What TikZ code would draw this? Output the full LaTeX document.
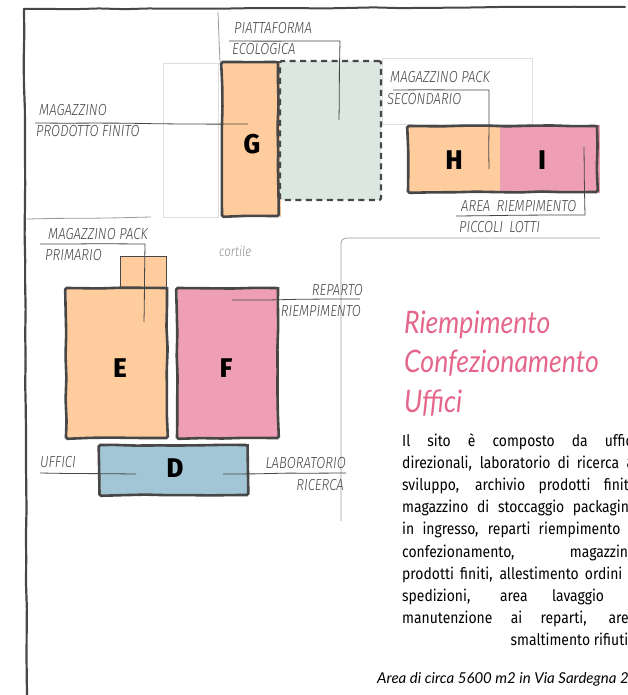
\documentclass[tikz,border=0pt]{standalone}
\usepackage{fontspec}
\setmainfont{Latin Modern Roman}
\newfontfamily\labelfont[FakeStretch=0.82]{Fira Sans Light Italic}
\newfontfamily\bodyfont[FakeStretch=0.87]{Fira Sans}
\newfontfamily\letterfont[FakeStretch=0.95]{Fira Sans ExtraBold}
\newfontfamily\titlefont[FakeStretch=0.86]{Lato Italic}
\newfontfamily\areafont{Lato Italic}
\usetikzlibrary{decorations.pathmorphing}

\definecolor{ink}{HTML}{474747}
\definecolor{peach}{HTML}{FFCC9E}
\definecolor{rose}{HTML}{EE9FB6}
\definecolor{sky}{HTML}{A3C6D6}
\definecolor{sage}{HTML}{DBE7E1}
\definecolor{titlepink}{HTML}{E5668B}

\begin{document}
\begin{tikzpicture}[x=1pt, y=-1pt,
        block_style/.style={inner sep=0pt, outer sep=0pt},
        outline_style/.style={draw=ink, inner sep=0pt, outer sep=0pt, line width=2.6pt, rounded corners=1.5pt, decorate, decoration={random steps, segment length=22pt, amplitude=0.6pt}},
        faint_style/.style={draw=black!13, inner sep=0pt, line width=0.7pt},
        letter_style/.style={font=\letterfont\fontsize{27}{27}\selectfont},
        label_style/.style={text=ink, inner sep=0pt, anchor=base west, font=\labelfont\fontsize{16}{16}\selectfont},
        title_style/.style={text=titlepink, inner sep=0pt, anchor=base west, font=\titlefont\fontsize{31}{31}\selectfont},
        leader_style/.style={draw=ink, line width=0.8pt, decorate, decoration={random steps, segment length=30pt, amplitude=0.4pt}},
        border_style/.style={draw=ink, line cap=round, decorate, decoration={random steps, segment length=25pt, amplitude=0.5pt}},
        sketch_style/.style={draw=black!40, line width=0.8pt, decorate, decoration={random steps, segment length=30pt, amplitude=0.3pt}}]

        \useasboundingbox (0,0) rectangle (627,695);

        % sheet border
        \coordinate (b1) at (24,9);
        \coordinate (b2) at (625,7);
        \coordinate (b3) at (27,695);
        \draw [border_style, line width=2pt] (b1) -- (b2);
        \draw [border_style, line width=2.2pt] (b1) -- (b3);

        % thin site lines
        \coordinate (s1) at (218,12);
        \coordinate (s2) at (220,62);
        \coordinate (s3) at (27,219);
        \coordinate (s4) at (151,217);
        \coordinate (p1) at (341,521);
        \coordinate (p2) at (600,238);
        \draw [sketch_style] (s1) -- (s2);
        \draw [sketch_style] (s3) -- (s4);
        \draw [draw=black!38, line width=0.8pt, rounded corners=5pt] (p1) |- (p2);

        \node [faint_style, minimum width=55pt, minimum height=154pt] (f1) at (190.5,140) {};
        \node [faint_style, minimum width=150pt, minimum height=66pt] (f2) at (457,91) {};

        % blocks
        \node [block_style, fill=peach, minimum width=58pt, minimum height=155pt] (n_g) at (252,139.5) {};
        \node [outline_style, minimum width=56pt, minimum height=154pt] (o_g) at (250,139) {};
        \node [block_style, fill=sage, draw=ink, line width=2.4pt, dashed, dash pattern=on 6pt off 4.5pt, rounded corners=1.5pt, minimum width=101pt, minimum height=139pt] (n_p) at (330.5,130.5) {};

        \node [block_style, fill=peach, minimum width=92pt, minimum height=67pt] (n_h) at (454,159) {};
        \node [block_style, fill=rose, minimum width=100pt, minimum height=67pt] (n_i) at (550,159) {};
        \node [outline_style, minimum width=189pt, minimum height=66pt] (o_hi) at (502.5,159) {};

        \node [block_style, fill=peach, draw=ink, line width=0.6pt, minimum width=46pt, minimum height=32pt] (n_s) at (143,272) {};
        \node [block_style, fill=peach, minimum width=100pt, minimum height=150pt] (n_e) at (116.5,363) {};
        \node [outline_style, minimum width=101pt, minimum height=150pt] (o_e) at (116.5,363) {};
        \node [block_style, fill=rose, minimum width=100pt, minimum height=150pt] (n_f) at (227.5,363) {};
        \node [outline_style, minimum width=101pt, minimum height=150pt] (o_f) at (227.5,363) {};
        \node [block_style, fill=sky, minimum width=148pt, minimum height=50pt] (n_d) at (173.5,470) {};
        \node [outline_style, minimum width=148pt, minimum height=50pt] (o_d) at (173.5,470) {};

        \node [letter_style] (l_g) at (252,144) {G};
        \node [letter_style] (l_h) at (454,160) {H};
        \node [letter_style] (l_i) at (542,160) {I};
        \node [letter_style] (l_e) at (120,368) {E};
        \node [letter_style] (l_f) at (226,368) {F};
        \node [letter_style] (l_d) at (175,468) {D};

        % labels
        \node [label_style] (t1) at (234,34) {PIATTAFORMA};
        \node [label_style] (t2) at (232,55) {ECOLOGICA};
        \node [label_style] (t3) at (39,116) {MAGAZZINO};
        \node [label_style] (t4) at (36,137) {PRODOTTO FINITO};
        \node [label_style] (t5) at (390,83) {MAGAZZINO PACK};
        \node [label_style] (t6) at (387,105) {SECONDARIO};
        \node [label_style] (t7) at (461,211) {AREA\, RIEMPIMENTO};
        \node [label_style] (t8) at (459,232) {PICCOLI\, LOTTI};
        \node [label_style] (t9) at (48,239) {MAGAZZINO PACK};
        \node [label_style] (t10) at (45,260) {PRIMARIO};
        \node [label_style, anchor=base east] (t11) at (363,295) {REPARTO};
        \node [label_style, anchor=base east] (t12) at (361,316) {RIEMPIMENTO};
        \node [label_style] (t13) at (40,467) {UFFICI};
        \node [label_style, anchor=base east] (t14) at (346,468) {LABORATORIO};
        \node [label_style, anchor=base east] (t15) at (344,490) {RICERCA};
        \node [label_style, text=black!45, font=\labelfont\fontsize{14}{14}\selectfont] (t16) at (219,256) {cortile};

        % leaders
        \coordinate (a1) at (229,41);
        \coordinate (a2) at (340,41);
        \coordinate (a3) at (339,120);
        \coordinate (a4) at (35,123);
        \coordinate (a5) at (248,124);
        \coordinate (a6) at (393,90);
        \coordinate (a7) at (489,90);
        \coordinate (a8) at (489,169);
        \coordinate (a9) at (456,216);
        \coordinate (a10) at (585,215);
        \coordinate (a11) at (584,147);
        \coordinate (a12) at (40,244);
        \coordinate (a13) at (145,244);
        \coordinate (a14) at (144,322);
        \coordinate (a15) at (360,299);
        \coordinate (a16) at (232,300);
        \coordinate (a17) at (40,473);
        \coordinate (a18) at (136,474);
        \coordinate (a19) at (346,473);
        \coordinate (a20) at (223,474);
        \draw [leader_style] (a1) -- (a2) -- (a3);
        \draw [leader_style] (a4) -- (a5);
        \draw [leader_style] (a6) -- (a7) -- (a8);
        \draw [leader_style] (a9) -- (a10) -- (a11);
        \draw [leader_style] (a12) -- (a13) -- (a14);
        \draw [leader_style] (a15) -- (a16);
        \draw [leader_style] (a17) -- (a18);
        \draw [leader_style] (a19) -- (a20);

        % text column
        \node [title_style] (n_title1) at (404,333) {Riempimento};
        \node [title_style] (n_title2) at (404,372) {Confezionamento};
        \node [title_style] (n_title3) at (404,412) {Uffici};
        \node [inner sep=0pt, anchor=north west, text width=234pt, align=justify, font=\bodyfont\fontsize{16}{22.2}\selectfont] (n_body) at (402,433) {Il sito è composto da uffici\linebreak direzionali, laboratorio di ricerca \&\linebreak sviluppo, archivio prodotti finiti,\linebreak magazzino di stoccaggio packaging\linebreak in ingresso, reparti riempimento e\linebreak confezionamento, magazzino\linebreak prodotti finiti, allestimento ordini e\linebreak spedizioni, area lavaggio e\linebreak manutenzione ai reparti, area\linebreak\null\hfill smaltimento rifiuti\kern8pt};
        \node [inner sep=0pt, anchor=base west, font=\areafont\fontsize{15}{15}\selectfont] (n_area) at (377,683) {Area di circa 5600 m2 in Via Sardegna 20};
\end{tikzpicture}
\end{document}
